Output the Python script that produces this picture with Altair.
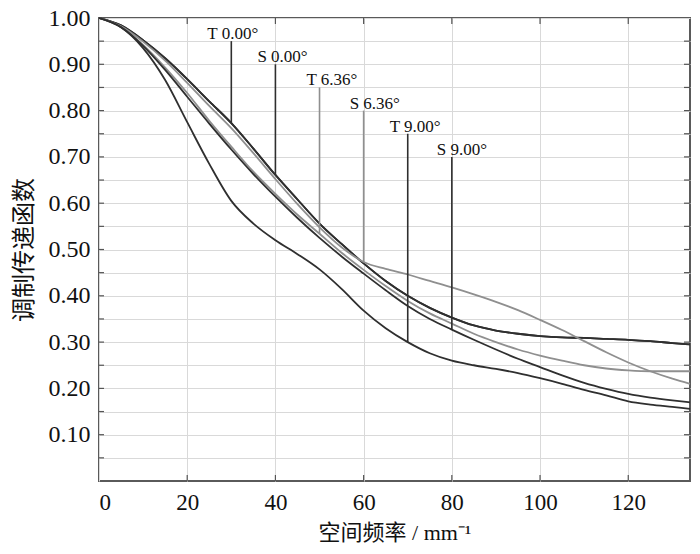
import altair as alt
import pandas as pd

# ---- data ----
freq = [0, 5, 10, 15, 20, 25, 30, 35, 40, 45, 50, 55, 60, 65, 70, 75, 80, 85, 90,
        95, 100, 105, 110, 115, 120, 125, 130, 134]

mtf_T000 = [1.000, 0.984, 0.952, 0.913, 0.868, 0.820, 0.773, 0.718, 0.661, 0.608, 0.556,
            0.512, 0.470, 0.432, 0.400, 0.374, 0.353, 0.336, 0.325, 0.318, 0.313, 0.310,
            0.309, 0.307, 0.305, 0.302, 0.298, 0.295]
mtf_S000 = [1.000, 0.984, 0.952, 0.913, 0.868, 0.820, 0.773, 0.718, 0.661, 0.608, 0.556,
            0.512, 0.470, 0.432, 0.400, 0.374, 0.353, 0.336, 0.325, 0.318, 0.313, 0.310,
            0.309, 0.307, 0.305, 0.302, 0.298, 0.295]
mtf_T636 = [1.000, 0.980, 0.942, 0.893, 0.838, 0.778, 0.722, 0.668, 0.620, 0.575, 0.534,
            0.493, 0.456, 0.421, 0.389, 0.362, 0.340, 0.318, 0.300, 0.284, 0.271, 0.260,
            0.250, 0.243, 0.239, 0.237, 0.237, 0.237]
mtf_S636 = [1.000, 0.982, 0.949, 0.908, 0.860, 0.810, 0.762, 0.708, 0.652, 0.598, 0.548,
            0.505, 0.473, 0.458, 0.446, 0.432, 0.418, 0.403, 0.387, 0.369, 0.348, 0.326,
            0.302, 0.278, 0.256, 0.237, 0.221, 0.210]
mtf_T900 = [1.000, 0.980, 0.935, 0.866, 0.775, 0.685, 0.605, 0.556, 0.520, 0.490, 0.457,
            0.415, 0.368, 0.330, 0.300, 0.276, 0.260, 0.250, 0.242, 0.233, 0.222, 0.210,
            0.197, 0.185, 0.172, 0.165, 0.160, 0.156]
mtf_S900 = [1.000, 0.980, 0.940, 0.888, 0.830, 0.772, 0.716, 0.663, 0.614, 0.568, 0.525,
            0.485, 0.448, 0.412, 0.378, 0.350, 0.327, 0.305, 0.284, 0.264, 0.246, 0.228,
            0.212, 0.199, 0.188, 0.180, 0.174, 0.170]

series_names = ["T 0.00°", "S 0.00°", "T 6.36°", "S 6.36°", "T 9.00°", "S 9.00°"]
series_values = [mtf_T000, mtf_S000, mtf_T636, mtf_S636, mtf_T900, mtf_S900]
series_colors = ["#2f2f2f", "#2f2f2f", "#8f8f8f", "#8f8f8f", "#2f2f2f", "#2f2f2f"]
series_widths = [1.8, 1.8, 1.2, 1.2, 1.6, 1.6]

# annotation leaders: frequency where each label points, and top of the leader line
ann_freq = [30, 40, 50, 60, 70, 80]
ann_top = [0.95, 0.90, 0.85, 0.80, 0.75, 0.70]
ann_dx = [-24, -18, -13, -14, -18, -15]

x_ticks = [0, 20, 40, 60, 80, 100, 120]
y_ticks = [0.05, 0.10, 0.15, 0.20, 0.25, 0.30, 0.35, 0.40, 0.45, 0.50,
           0.55, 0.60, 0.65, 0.70, 0.75, 0.80, 0.85, 0.90, 0.95, 1.00]

# ---- tables ----
rows = []
for name, vals in zip(series_names, series_values):
    for f, v in zip(freq, vals):
        rows.append({"freq": f, "mtf": v, "series": name})
df = pd.DataFrame(rows)

ann = pd.DataFrame({
    "series": series_names,
    "freq": ann_freq,
    "mtf": ann_top,
    "curve": [vals[freq.index(f)] for vals, f in zip(series_values, ann_freq)],
    "dx": ann_dx,
})

W, H = 591, 463
FONT = "Liberation Serif"
CJK = "Liberation Serif, Noto Sans CJK SC"

xscale = alt.Scale(domain=[0, 134], nice=False)
yscale = alt.Scale(domain=[0, 1], nice=False)
color_scale = alt.Scale(domain=series_names, range=series_colors)
width_scale = alt.Scale(domain=series_names, range=series_widths)

x_axis = alt.Axis(values=x_ticks, title="空间频率 / mm⁻¹", grid=True,
                  ticks=False, domain=False, labelFont=FONT,
                  labelFontSize=23, labelColor="#111", labelPadding=10,
                  titleFont=CJK, titleFontSize=22, titleFontWeight="normal",
                  titleColor="#111", titlePadding=8,
                  gridColor="#d9d9d9", gridWidth=1)
y_axis = alt.Axis(values=y_ticks, title="调制传递函数", grid=True,
                  ticks=False, domain=False, labelFont=FONT,
                  labelFontSize=24, labelColor="#111", labelPadding=9,
                  labelExpr="datum.value > 0.07 && abs(datum.value * 10 - round(datum.value * 10)) < 0.01 ? format(datum.value, '.2f') : ''",
                  titleFont=CJK, titleFontSize=24, titleFontWeight="normal",
                  titleColor="#111", titlePadding=12,
                  gridColor="#d9d9d9", gridWidth=1)

X = lambda f: alt.X(f, scale=xscale, axis=x_axis)
Y = lambda f: alt.Y(f, scale=yscale, axis=y_axis)

lines = alt.Chart(df).mark_line(interpolate="monotone").encode(
    x=X("freq:Q"),
    y=Y("mtf:Q"),
    color=alt.Color("series:N", scale=color_scale, legend=None),
    strokeWidth=alt.StrokeWidth("series:N", scale=width_scale, legend=None),
    detail="series:N",
)

leaders = alt.Chart(ann).mark_rule(strokeWidth=1.6).encode(
    x=X("freq:Q"),
    y=Y("mtf:Q"),
    y2="curve:Q",
    color=alt.Color("series:N", scale=color_scale, legend=None),
)

label_layers = []
for i in range(len(series_names)):
    label_layers.append(
        alt.Chart(ann.iloc[[i]]).mark_text(font=FONT, fontSize=17, align="left",
                                           baseline="alphabetic", dx=ann_dx[i], dy=-2,
                                           color="#111").encode(
            x=X("freq:Q"), y=Y("mtf:Q"), text="series:N")
    )

# inward tick marks on all four sides of the frame
ytk = pd.DataFrame({"mtf": y_ticks[:-1]})
xtk = pd.DataFrame({"freq": x_ticks[1:]})
tick_color = "#555"
left_ticks = alt.Chart(ytk).mark_rule(color=tick_color, strokeWidth=1.2).encode(
    y=Y("mtf:Q"), x=alt.value(0), x2=alt.value(5))
right_ticks = alt.Chart(ytk).mark_rule(color=tick_color, strokeWidth=1.2).encode(
    y=Y("mtf:Q"), x=alt.value(W - 6), x2=alt.value(W))
bottom_ticks = alt.Chart(xtk).mark_rule(color=tick_color, strokeWidth=1.2).encode(
    x=X("freq:Q"), y=alt.value(H), y2=alt.value(H - 6))
top_ticks = alt.Chart(xtk).mark_rule(color=tick_color, strokeWidth=1.2).encode(
    x=X("freq:Q"), y=alt.value(0), y2=alt.value(6))

chart = alt.layer(
    lines, left_ticks, right_ticks, bottom_ticks, top_ticks, leaders, *label_layers
).properties(
    width=W, height=H,
    autosize=alt.AutoSizeParams(type="none"),
    padding={"left": 91, "top": 10, "right": 2, "bottom": 64},
    background="white",
).configure_view(
    stroke="#5a5a5a", strokeWidth=2
)

chart.save("out.html", embed_options={"renderer": "svg", "actions": False})
